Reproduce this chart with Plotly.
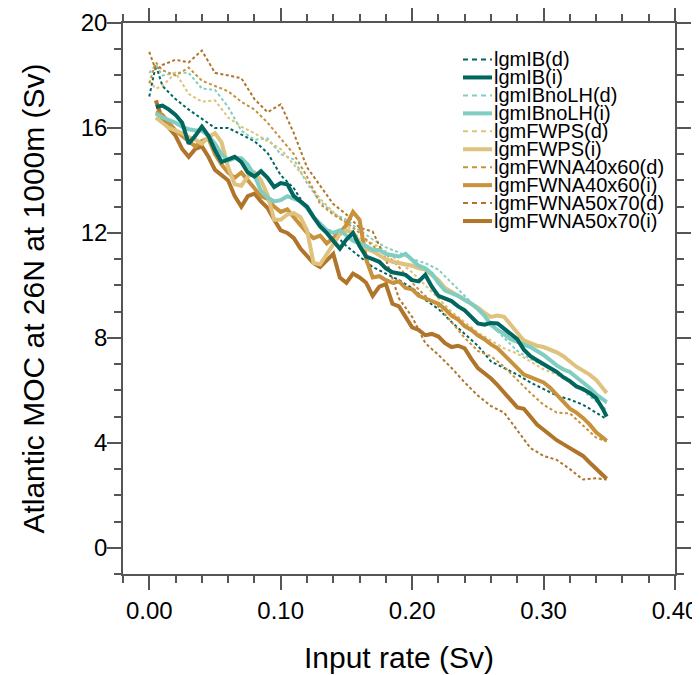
import plotly.graph_objects as go

# x positions of the samples
x_i = [0.005, 0.010, 0.015, 0.020, 0.025, 0.030, 0.035, 0.040, 0.045, 0.050,
       0.055, 0.060, 0.065, 0.070, 0.075, 0.080, 0.085, 0.090, 0.095, 0.100,
       0.105, 0.110, 0.115, 0.120, 0.125, 0.130, 0.135, 0.140, 0.145, 0.150,
       0.155, 0.160, 0.165, 0.170, 0.175, 0.180, 0.185, 0.190, 0.195, 0.200,
       0.205, 0.210, 0.215, 0.220, 0.225, 0.230, 0.235, 0.240, 0.245, 0.250,
       0.255, 0.260, 0.265, 0.270, 0.275, 0.280, 0.285, 0.290, 0.295, 0.300,
       0.305, 0.310, 0.315, 0.320, 0.325, 0.330, 0.335, 0.340, 0.345, 0.348]
x_d = [0.000, 0.005, 0.010, 0.020, 0.030, 0.040, 0.050, 0.060, 0.070, 0.080,
       0.090, 0.100, 0.110, 0.120, 0.130, 0.140, 0.150, 0.160, 0.170, 0.180,
       0.190, 0.200, 0.210, 0.220, 0.230, 0.240, 0.250, 0.260, 0.270, 0.280,
       0.290, 0.300, 0.310, 0.320, 0.330, 0.340, 0.348]

# MOC (Sv), "(d)" runs
ib_d = [17.2, 18.4, 17.6, 17.1, 16.7, 16.35, 16.0, 16.0, 15.75, 15.5,
        15.05, 14.2, 13.7, 12.9, 12.3, 12.0, 11.5, 11.1, 10.7, 10.45,
        10.2, 9.9, 9.45, 9.1, 8.6, 8.15, 7.7, 7.1, 6.85, 6.6,
        6.3, 6.05, 5.8, 5.65, 5.45, 5.15, 4.9]
ibnolh_d = [18.1, 18.4, 18.0, 18.1, 18.1, 17.5, 17.45, 16.8, 15.9, 15.55,
            15.6, 15.0, 14.8, 13.9, 13.2, 12.75, 12.5, 12.1, 11.75, 11.45,
            11.25, 11.0, 10.85, 10.6, 10.1, 9.6, 9.1, 8.5, 8.0, 7.5,
            7.2, 6.95, 6.7, 6.4, 6.0, 5.6, 5.25]
fwps_d = [17.8, 17.5, 17.6, 18.1, 17.3, 17.0, 17.05, 16.4, 16.05, 15.8,
          15.5, 15.2, 14.6, 14.0, 13.3, 12.8, 12.3, 11.8, 11.6, 11.3,
          10.9, 10.5, 10.0, 9.5, 9.0, 8.6, 8.2, 7.9, 7.6, 7.4,
          7.1, 6.8, 6.6, 6.3, 6.0, 5.8, 5.5]
fwna4060_d = [17.7, 18.5, 18.2, 18.0, 18.3, 17.8, 17.6, 17.4, 17.0, 16.7,
              16.2, 15.6, 15.0, 14.15, 13.1, 12.7, 12.4, 12.0, 11.5, 11.2,
              10.7, 10.1, 9.6, 9.2, 8.6, 8.0, 7.5, 7.3, 6.9, 6.4,
              5.9, 5.45, 5.15, 5.12, 4.65, 4.2, 4.05]
fwna5070_d = [18.9, 18.2, 18.4, 18.6, 18.5, 18.95, 18.1, 18.0, 17.9, 17.1,
              16.6, 16.9, 15.8, 14.5, 13.8, 13.1, 12.7, 12.2, 12.05, 11.0,
              9.5, 8.8, 7.8, 7.35, 6.85, 6.3, 5.8, 5.4, 5.15, 4.45,
              3.8, 3.5, 3.35, 3.0, 2.6, 2.65, 2.6]

# MOC (Sv), "(i)" runs
ib_i = [16.8, 16.85, 16.7, 16.5, 16.2, 15.4, 15.7, 16.05, 15.7, 15.15,
        14.7, 14.8, 14.9, 14.7, 14.3, 14.15, 14.35, 14.1, 13.75, 13.9,
        13.85, 13.4, 13.2, 13.0, 12.6, 12.25, 12.0, 11.7, 11.4, 11.75,
        12.0, 11.5, 11.1, 11.0, 10.9, 10.65, 10.5, 10.45, 10.4, 10.2,
        10.15, 10.4, 9.95, 9.6, 9.5, 9.4, 9.2, 9.05, 8.8, 8.55,
        8.5, 8.57, 8.55, 8.35, 8.15, 7.95, 7.55, 7.3, 7.15, 7.0,
        6.85, 6.7, 6.5, 6.35, 6.15, 6.05, 5.9, 5.7, 5.3, 5.0]
ibnolh_i = [16.55, 16.4, 16.3, 16.2, 16.05, 15.95, 15.9, 15.9, 15.7, 15.4,
            15.0, 14.75, 14.85, 14.85, 14.6, 14.2, 13.6, 13.35, 13.2, 13.25,
            13.4, 13.3, 13.2, 12.95, 12.6, 12.35, 12.1, 12.0, 12.1, 11.9,
            11.7, 11.6, 11.5, 11.35, 11.35, 11.2, 11.15, 11.1, 11.2, 10.95,
            10.75, 10.65, 10.45, 10.1, 9.8, 9.7, 9.6, 9.45, 9.3, 9.1,
            8.85, 8.5, 8.3, 8.15, 7.95, 7.85, 7.75, 7.65, 7.5, 7.35,
            7.15, 6.95, 6.8, 6.7, 6.5, 6.3, 6.1, 5.85, 5.65, 5.55]
fwps_i = [16.4, 16.2, 16.0, 15.9, 15.8, 15.65, 15.55, 15.4, 15.65, 15.8,
          15.45, 14.5, 13.85, 13.8, 14.15, 14.3, 14.0, 13.45, 12.5, 12.5,
          12.7, 12.75, 12.6, 12.1, 10.85, 10.8, 11.2, 11.6, 11.95, 12.1,
          12.0, 11.65, 11.4, 11.3, 11.15, 11.0, 10.9, 10.85, 10.8, 10.75,
          10.65, 10.6, 10.4, 10.2, 9.9, 9.75, 9.6, 9.45, 9.3, 9.15,
          8.95, 8.8, 8.85, 8.8, 8.5, 8.2, 7.9, 7.8, 7.7, 7.65,
          7.55, 7.45, 7.3, 7.1, 6.9, 6.75, 6.6, 6.4, 6.1, 5.9]
fwna4060_i = [16.6, 16.5, 16.2, 15.9, 15.7, 15.5, 15.3, 15.5, 15.6, 15.0,
              14.6, 14.3, 14.1, 14.3, 14.0, 13.7, 13.4, 13.3, 13.0, 12.8,
              12.9, 12.6, 12.3, 12.0, 11.8, 11.9, 11.6, 11.8, 12.0, 12.3,
              12.8, 12.5, 11.0, 10.3, 10.35, 10.2, 10.1, 10.15, 9.9, 9.85,
              9.6, 9.5, 9.4, 9.3, 9.1, 8.85, 8.7, 8.45, 8.3, 8.1,
              7.95, 7.75, 7.6, 7.35, 7.1, 6.85, 6.6, 6.5, 6.4, 6.3,
              6.1, 5.85, 5.55, 5.3, 5.15, 4.95, 4.7, 4.4, 4.2, 4.08]
fwna5070_i = [17.05, 16.3, 16.0, 15.7, 15.2, 14.9, 15.2, 15.3, 14.9, 14.4,
              14.2, 14.0, 13.4, 13.0, 13.4, 13.5, 13.2, 12.95, 12.5, 12.1,
              12.0, 11.8, 11.4, 11.1, 10.85, 10.7, 10.95, 11.2, 10.3, 10.1,
              10.45, 10.3, 10.1, 9.6, 9.95, 10.05, 9.3, 9.2, 8.8, 8.4,
              8.3, 8.1, 8.15, 8.05, 7.8, 7.65, 7.7, 7.6, 7.2, 6.85,
              6.65, 6.45, 6.2, 5.9, 5.65, 5.35, 5.3, 5.0, 4.7, 4.5,
              4.3, 4.1, 3.95, 3.8, 3.65, 3.5, 3.25, 3.0, 2.8, 2.63]

names = ['lgmIB', 'lgmIBnoLH', 'lgmFWPS', 'lgmFWNA40x60', 'lgmFWNA50x70']
colors = ['#01665e', '#80cdc1', '#dfc27d', '#c8913c', '#b0742a']
d_runs = [ib_d, ibnolh_d, fwps_d, fwna4060_d, fwna5070_d]
i_runs = [ib_i, ibnolh_i, fwps_i, fwna4060_i, fwna5070_i]

font = 'Liberation Sans, Arial, sans-serif'
frame = '#555555'

fig = go.Figure()
for n, c, y in zip(names, colors, d_runs):
    fig.add_trace(go.Scatter(x=x_d, y=y, mode='lines', name=n + '(d)',
                             line=dict(color=c, width=2, dash='3px,2.5px'),
                             showlegend=False))
for n, c, y in reversed(list(zip(names, colors, i_runs))):
    fig.add_trace(go.Scatter(x=x_i, y=y, mode='lines', name=n + '(i)',
                             line=dict(color=c, width=4),
                             showlegend=False))

# page has an 8px body margin, so the plot box (123..675, 23..574 on screen)
# is placed with that offset taken off
OFF = 8
L, R, T, B = 123 - OFF, 25 + OFF, 23 - OFF, 101 + OFF
W, H = 700 - L - R, 675 - T - B
def px(x):
    return (x - OFF - L) / W
def py(y):
    return (T + H - (y - OFF)) / H

# hand-made legend (tight rows like the original)
row = 0
for n, c in zip(names, colors):
    for kind, wd, dash in [('(d)', 2, '5px,4px'), ('(i)', 4, 'solid')]:
        yy = py(59.5 + 17.95 * row)
        fig.add_shape(type='line', xref='paper', yref='paper',
                      x0=px(463), x1=px(492), y0=yy, y1=yy,
                      line=dict(color=c, width=wd, dash=dash))
        fig.add_annotation(text=n + kind, xref='paper', yref='paper',
                           x=px(493), y=yy, xanchor='left', yanchor='middle',
                           borderpad=0, showarrow=False,
                           font=dict(size=20, color='black'))
        row += 1

axis_common = dict(showline=True, linecolor=frame, linewidth=1.5,
                   mirror='allticks', ticks='outside', ticklen=14,
                   tickwidth=1.5, tickcolor=frame, showgrid=False,
                   zeroline=False, automargin=False,
                   tickfont=dict(size=24, color='black'))

fig.update_layout(
    width=700, height=675,
    margin=dict(l=L, r=R, t=T, b=B),
    paper_bgcolor='white', plot_bgcolor='white',
    font=dict(family=font, color='black'),
    showlegend=False,
    xaxis=dict(range=[-0.02, 0.40], tick0=0, dtick=0.1, tickformat='.2f',
               title=dict(text='Input rate (Sv)', font=dict(size=30), standoff=24),
               minor=dict(dtick=0.02, tick0=0, ticklen=7, ticks='outside',
                          tickcolor=frame, tickwidth=1.5, showgrid=False),
               **axis_common),
    yaxis=dict(range=[-1, 20], tick0=0, dtick=4, ticklabelstandoff=-5,
               title=dict(text='Atlantic MOC at 26N at 1000m (Sv)', font=dict(size=30), standoff=27),
               minor=dict(dtick=1, tick0=0, ticklen=7, ticks='outside',
                          tickcolor=frame, tickwidth=1.5, showgrid=False),
               **axis_common),
)

fig.write_html('out.html')
